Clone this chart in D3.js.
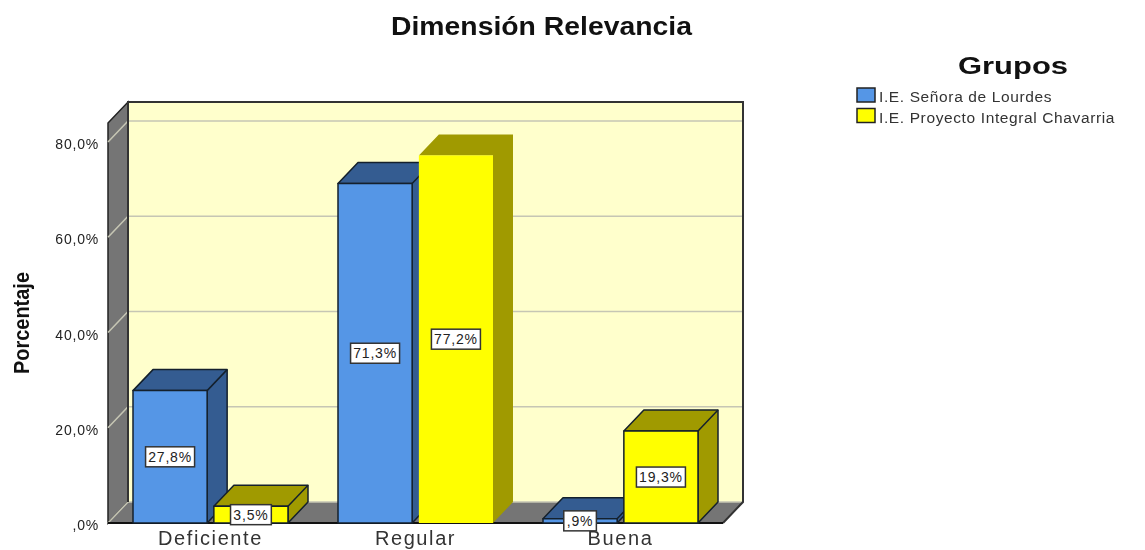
<!DOCTYPE html>
<html>
<head>
<meta charset="utf-8">
<script src="https://cdn.jsdelivr.net/npm/d3@7"></script>
<style>
  html, body { margin: 0; padding: 0; background: #fff; overflow: hidden; }
  text { font-family: "Liberation Sans", Arial, sans-serif; }
  svg { filter: blur(0.45px); }
</style>
</head>
<body>
<div id="chart"></div>
<script>
const categories = ["Deficiente", "Regular", "Buena"];
const groups = ["I.E. Señora de Lourdes", "I.E. Proyecto Integral Chavarria"];
const senoraValues = [27.8, 71.3, 0.9];
const chavarriaValues = [3.5, 77.2, 19.3];
const valueLabels = [["27,8%", "71,3%", ",9%"], ["3,5%", "77,2%", "19,3%"]];
const tickValues = [0, 20, 40, 60, 80];
const tickLabels = [",0%", "20,0%", "40,0%", "60,0%", "80,0%"];

const width = 1145,
  height = 550,
  plotLeft = 108,
  plotRight = 723,
  plotBottom = 523,
  plotTop = 123,
  depthX = 20,
  depthY = 21;

const frontColors = ["#5596e6", "#ffff00"];
const sideColors = ["#345c91", "#a09a00"];

const x = d3.scaleBand().domain(categories).range([plotLeft, plotRight]);
const xGroup = d3.scaleBand().domain([0, 1]).range([25, 180]).paddingInner(0.083);
const y = d3.scaleLinear().domain([0, 84]).range([plotBottom, plotTop]);

const svg = d3.select("#chart")
  .append("svg")
  .attr("width", width)
  .attr("height", height)
  .style("display", "block");

const line = d3.line();

// walls and floor
svg.append("path")
  .attr("fill", "#ffffcc")
  .attr("d", line([[plotLeft + depthX, plotTop - depthY], [plotRight + depthX, plotTop - depthY], [plotRight + depthX, plotBottom - depthY], [plotLeft + depthX, plotBottom - depthY]]) + "Z");
svg.append("path")
  .attr("fill", "#757575")
  .attr("stroke", "#222")
  .attr("stroke-width", 1.5)
  .attr("d", line([[plotLeft, plotTop], [plotLeft + depthX, plotTop - depthY], [plotLeft + depthX, plotBottom - depthY], [plotLeft, plotBottom]]) + "Z");
svg.append("path")
  .attr("fill", "#757575")
  .attr("d", line([[plotLeft, plotBottom], [plotLeft + depthX, plotBottom - depthY], [plotRight + depthX, plotBottom - depthY], [plotRight, plotBottom]]) + "Z");

// gridlines run along left wall then back wall
svg.append("g")
  .selectAll("path")
  .data(tickValues)
  .join("path")
  .attr("fill", "none")
  .attr("stroke", "#c6c6b4")
  .attr("stroke-width", 1.5)
  .attr("d", d => line([[plotLeft, y(d)], [plotLeft + depthX, y(d) - depthY], [plotRight + depthX, y(d) - depthY]]));

// wall edges
svg.append("path")
  .attr("fill", "none")
  .attr("stroke", "#333")
  .attr("stroke-width", 2)
  .attr("d", line([[plotLeft + depthX, plotBottom - depthY], [plotLeft + depthX, plotTop - depthY], [plotRight + depthX, plotTop - depthY], [plotRight + depthX, plotBottom - depthY], [plotRight, plotBottom]]));
svg.append("path")
  .attr("fill", "none")
  .attr("stroke", "#111")
  .attr("stroke-width", 2)
  .attr("d", line([[plotLeft, plotBottom], [plotRight, plotBottom]]));

// bars
const rows = [senoraValues, chavarriaValues].flatMap((vals, g) =>
  vals.map((v, i) => ({ g, v, cat: categories[i], label: valueLabels[g][i] })));
// the tallest yellow bar has no dark outline in the original
const noOutline = d => d.g === 1 && d.cat === "Regular";

const bars = svg.append("g")
  .selectAll("g")
  .data(rows)
  .join("g")
  .attr("stroke", d => noOutline(d) ? "none" : "#14202c")
  .attr("stroke-width", 1.5)
  .attr("stroke-linejoin", "round");

const bx = d => x(d.cat) + xGroup(d.g);
const bw = xGroup.bandwidth();

bars.append("path")
  .attr("fill", d => sideColors[d.g])
  .attr("d", d => line([[bx(d), y(d.v)], [bx(d) + depthX, y(d.v) - depthY], [bx(d) + bw + depthX, y(d.v) - depthY], [bx(d) + bw + depthX, plotBottom - depthY], [bx(d) + bw, plotBottom], [bx(d) + bw, y(d.v)]]) + "Z");
bars.append("path")
  .attr("fill", "none")
  .attr("d", d => line([[bx(d) + bw, y(d.v)], [bx(d) + bw + depthX, y(d.v) - depthY]]));
bars.append("rect")
  .attr("fill", d => frontColors[d.g])
  .attr("x", bx)
  .attr("y", d => y(d.v))
  .attr("width", bw)
  .attr("height", d => plotBottom - y(d.v));

// value labels
const boxWidth = d => d.label.length * 8.2 + 8;
const labels = svg.append("g")
  .selectAll("g")
  .data(rows)
  .join("g")
  .attr("transform", d => `translate(${bx(d) + bw / 2},${(y(d.v) + plotBottom) / 2})`);
labels.append("rect")
  .attr("x", d => -boxWidth(d) / 2)
  .attr("y", -10)
  .attr("width", boxWidth)
  .attr("height", 20)
  .attr("fill", "#fff")
  .attr("stroke", "#333")
  .attr("stroke-width", 1.5);
labels.append("text")
  .attr("text-anchor", "middle")
  .attr("y", 5)
  .attr("font-size", 14)
  .attr("letter-spacing", 0.8)
  .attr("fill", "#222")
  .text(d => d.label);

// axes
const yAxis = svg.append("g")
  .attr("transform", `translate(${plotLeft - 9},2)`)
  .call(d3.axisLeft(y).tickValues(tickValues).tickSize(0).tickPadding(0).tickFormat((d, i) => tickLabels[i]));
yAxis.select(".domain").remove();
yAxis.selectAll("text")
  .attr("font-size", 14)
  .attr("letter-spacing", 0.8)
  .attr("fill", "#222")
  .attr("dy", "0.32em")
  .style("font-family", '"Liberation Sans", Arial, sans-serif');

const xAxis = svg.append("g")
  .attr("transform", `translate(0,${plotBottom})`)
  .call(d3.axisBottom(x).tickSize(0).tickPadding(8));
xAxis.select(".domain").remove();
xAxis.selectAll("text")
  .attr("font-size", 20)
  .attr("letter-spacing", 1.6)
  .attr("fill", "#333")
  .style("font-family", '"Liberation Sans", Arial, sans-serif');

// titles
svg.append("text")
  .attr("x", 541.5)
  .attr("y", 35)
  .attr("text-anchor", "middle")
  .attr("font-size", 25)
  .attr("font-weight", "bold")
  .attr("fill", "#111")
  .attr("textLength", 301)
  .attr("lengthAdjust", "spacingAndGlyphs")
  .text("Dimensión Relevancia");

svg.append("text")
  .attr("transform", "translate(29,323) rotate(-90)")
  .attr("text-anchor", "middle")
  .attr("font-size", 22)
  .attr("font-weight", "bold")
  .attr("fill", "#111")
  .attr("textLength", 102)
  .attr("lengthAdjust", "spacingAndGlyphs")
  .text("Porcentaje");

// legend
svg.append("text")
  .attr("x", 1013)
  .attr("y", 74)
  .attr("text-anchor", "middle")
  .attr("font-size", 23)
  .attr("font-weight", "bold")
  .attr("fill", "#111")
  .attr("textLength", 110)
  .attr("lengthAdjust", "spacingAndGlyphs")
  .text("Grupos");

const legend = svg.append("g")
  .selectAll("g")
  .data(groups)
  .join("g")
  .attr("transform", (d, i) => `translate(857,${88 + i * 20.5})`);
legend.append("rect")
  .attr("width", 18)
  .attr("height", 14)
  .attr("fill", (d, i) => frontColors[i])
  .attr("stroke", "#222")
  .attr("stroke-width", 1.5);
legend.append("text")
  .attr("x", 22)
  .attr("y", 14)
  .attr("font-size", 15.5)
  .attr("fill", "#333")
  .attr("letter-spacing", 0.62)
  .text(d => d);
</script>
</body>
</html>
